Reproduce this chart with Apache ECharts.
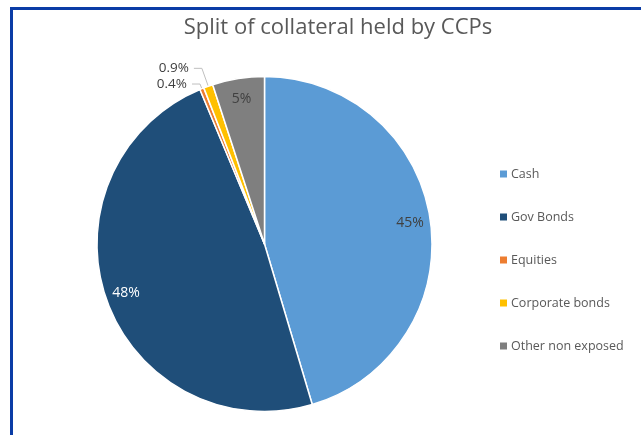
<!DOCTYPE html>
<html>
<head>
<meta charset="utf-8">
<script src="https://cdn.jsdelivr.net/npm/echarts@6/dist/echarts.min.js"></script>
<style>
html,body{margin:0;padding:0;background:#fff;overflow:hidden;}
#frame{position:absolute;left:10px;top:7px;width:800px;height:600px;border:3px solid #0A3CA6;box-sizing:border-box;}
#chart{position:absolute;left:0;top:0;width:641px;height:435px;}
</style>
</head>
<body>
<div id="frame"></div>
<div id="chart"></div>
<script>
const categories = ['Cash', 'Gov Bonds', 'Equities', 'Corporate bonds', 'Other non exposed'];
const values = [45.4, 48.3, 0.4, 0.9, 5.0];
const colors = ['#5B9BD5', '#1F4E79', '#ED7D31', '#FFC000', '#7F7F7F'];
const labelColors = ['#404040', '#FFFFFF', '#404040', '#404040', '#404040'];
const smallItems = ['Equities', 'Corporate bonds'];

function fmt(v){ return v < 1 ? v.toFixed(1) + '%' : Math.round(v) + '%'; }

const font = 'Open Sans, Lato, sans-serif';
const center = [264.5, 244];
const R = 167.5;

const baseData = categories.map((c, i) => {
  const small = smallItems.indexOf(c) >= 0;
  return {
    name: c, value: values[i],
    itemStyle: { color: colors[i] },
    label: { show: small },
    labelLine: { show: small, length: c === 'Corporate bonds' ? 19 : 5, length2: 8 }
  };
});

const labelData = categories.map((c, i) => {
  const small = smallItems.indexOf(c) >= 0;
  return {
    name: c, value: values[i],
    label: { show: !small, color: labelColors[i] }
  };
});

const chart = echarts.init(document.getElementById('chart'));
chart.setOption({
  animation: false,
  title: {
    text: 'Split of collateral held by CCPs',
    left: 333, top: 12, textAlign: 'center',
    textStyle: { fontFamily: font, fontSize: 22, fontWeight: 'normal', color: '#595959' }
  },
  legend: {
    orient: 'vertical', left: 495, top: 162,
    icon: 'rect', itemWidth: 7, itemHeight: 7, itemGap: 29,
    itemStyle: { borderWidth: 0 },
    data: categories,
    textStyle: { fontFamily: font, fontSize: 12.5, color: '#595959', lineHeight: 14, padding: [0, 0, 0, -1] }
  },
  series: [
    {
      type: 'pie', center: center, radius: R,
      startAngle: 90, clockwise: true,
      itemStyle: { borderColor: '#fff', borderWidth: 1.5 },
      label: {
        position: 'outside', formatter: p => fmt(p.value),
        fontFamily: font, fontSize: 13.5, color: '#404040'
      },
      labelLine: { lineStyle: { color: '#BFBFBF', width: 1 } },
      avoidLabelOverlap: false,
      data: baseData
    },
    {
      type: 'pie', center: center, radius: [R * 0.72, R],
      startAngle: 90, clockwise: true, silent: true,
      itemStyle: { color: 'rgba(0,0,0,0)' },
      label: {
        position: 'inside', formatter: p => fmt(p.value),
        fontFamily: font, fontSize: 14
      },
      labelLine: { show: false },
      data: labelData
    }
  ]
});
</script>
</body>
</html>
